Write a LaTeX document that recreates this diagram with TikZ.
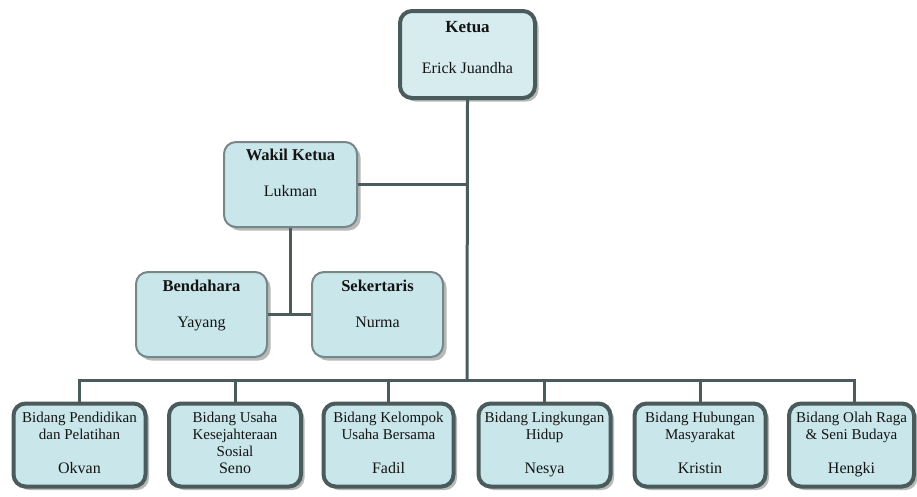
\documentclass[tikz,border=0pt]{standalone}
\usepackage{fontspec}
\setmainfont{Liberation Serif}
\usetikzlibrary{shadows}
\definecolor{bordc}{HTML}{4A5B5B}
\definecolor{thinc}{HTML}{778787}
\definecolor{fillc}{HTML}{C9E6EA}
\definecolor{fillk}{HTML}{D6ECEF}
\definecolor{linec}{HTML}{4B5C5C}
\definecolor{txtc}{HTML}{141414}
\begin{document}
\begin{tikzpicture}[x=1pt,y=-1pt,
  shad/.style={drop shadow={shadow xshift=3.5pt,shadow yshift=-3.5pt,fill=black!55,opacity=.5}},
  thickbox/.style={draw=bordc,line width=4pt,rounded corners=12pt,fill=fillc,shad,inner sep=0pt},
  thinbox/.style={draw=thinc,line width=2pt,rounded corners=12pt,fill=fillc,shad,inner sep=0pt},
  conn/.style={draw=linec,line width=3pt},
  hd/.style={anchor=base,font=\fontsize{16.5}{19}\selectfont\bfseries,text=txtc,inner sep=0pt},
  nm/.style={anchor=base,font=\fontsize{16}{19}\selectfont,text=txtc,inner sep=0pt},
  ds/.style={anchor=base,font=\fontsize{15}{17}\selectfont,text=txtc,inner sep=0pt},
]
\useasboundingbox (0,0) rectangle (917,496);

% boxes (shapes only)
\node[thickbox,fill=fillk,minimum width=135pt,minimum height=87pt] (k) at (467.5,54.5) {};
\node[thinbox,minimum width=133pt,minimum height=85pt] (w) at (290.5,184.5) {};
\node[thinbox,minimum width=131pt,minimum height=85pt] (b) at (201.5,314.5) {};
\node[thinbox,minimum width=131pt,minimum height=85pt] (s) at (377.5,314.5) {};

\coordinate (bus) at (467,380);

% connectors
\draw[conn] (k.south) -- (bus);
\draw[conn] (w.east) -- (w.east -| k.south);
\draw[conn] (w.south) -- (w.south |- b.east);
\draw[conn] (b.east) -- (s.west);

\node[thickbox,minimum width=132pt,minimum height=83pt] (b1) at (79.5,445) {};
\node[thickbox,minimum width=132pt,minimum height=83pt] (b2) at (235,445) {};
\node[thickbox,minimum width=130pt,minimum height=83pt] (b3) at (388.5,445) {};
\node[thickbox,minimum width=132pt,minimum height=83pt] (b4) at (544.5,445) {};
\node[thickbox,minimum width=131pt,minimum height=83pt] (b5) at (700,445) {};
\node[thickbox,minimum width=125pt,minimum height=83pt] (b6) at (851.5,445) {};

\coordinate (c6) at (854,445);
\draw[conn] (b1.north) |- (bus) -| (c6 |- b6.north);
\foreach \n in {b2,b3,b4,b5} \draw[conn] (\n.north) -- (\n.north |- bus);

% texts
\node[hd,font=\fontsize{17}{19}\selectfont\bfseries] (kt) at (467.5,32) {Ketua};
\node[nm] (kn) at (467.5,73) {Erick Juandha};
\node[hd] (wt) at (290.5,160) {Wakil Ketua};
\node[nm] (wn) at (290.5,196) {Lukman};
\node[hd] (bt) at (201.5,291) {Bendahara};
\node[nm] (bn) at (201.5,327) {Yayang};
\node[hd] (st) at (377.5,291) {Sekertaris};
\node[nm] (sn) at (377.5,327) {Nurma};

\node[ds] (t1a) at (79.5,422) {Bidang Pendidikan};
\node[ds] (t1b) at (79.5,439) {dan Pelatihan};
\node[nm] (n1) at (79.5,473) {Okvan};

\node[ds] (t2a) at (235,422) {Bidang Usaha};
\node[ds] (t2b) at (235,439) {Kesejahteraan};
\node[ds] (t2c) at (235,456) {Sosial};
\node[nm] (n2) at (235,473) {Seno};

\node[ds] (t3a) at (388.5,422) {Bidang Kelompok};
\node[ds] (t3b) at (388.5,439) {Usaha Bersama};
\node[nm] (n3) at (388.5,473) {Fadil};

\node[ds] (t4a) at (544.5,422) {Bidang Lingkungan};
\node[ds] (t4b) at (544.5,439) {Hidup};
\node[nm] (n4) at (544.5,473) {Nesya};

\node[ds] (t5a) at (700,422) {Bidang Hubungan};
\node[ds] (t5b) at (700,439) {Masyarakat};
\node[nm] (n5) at (700,473) {Kristin};

\node[ds] (t6a) at (851.5,422) {Bidang Olah Raga};
\node[ds] (t6b) at (851.5,439) {\& Seni Budaya};
\node[nm] (n6) at (851.5,473) {Hengki};
\end{tikzpicture}
\end{document}
